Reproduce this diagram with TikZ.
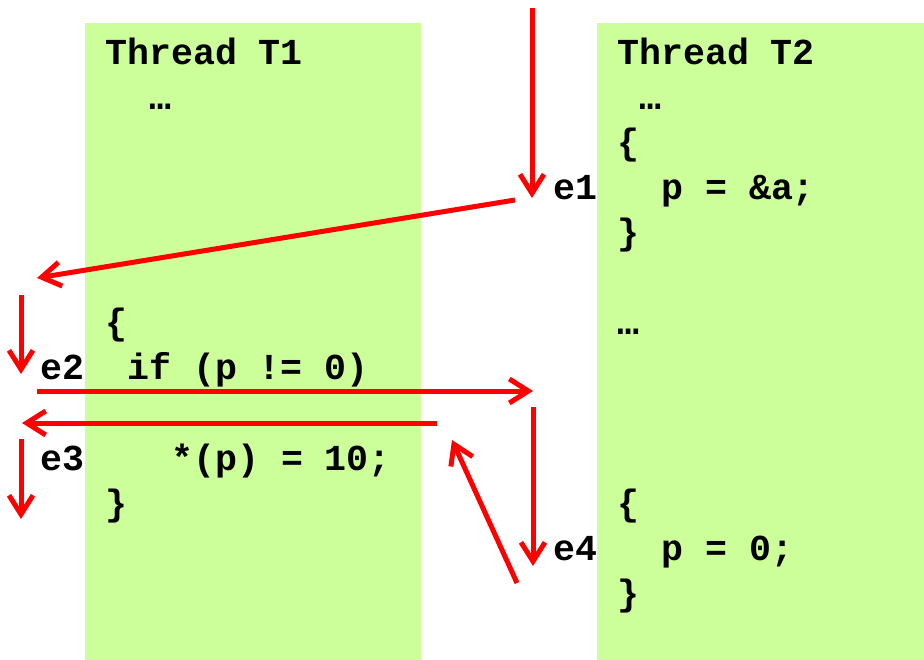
\documentclass[tikz,border=0pt]{standalone}
\usepackage{fontspec}
\setmonofont{Liberation Mono}
\usepackage{xcolor}
\definecolor{thrgreen}{HTML}{CCFF99}
\definecolor{evred}{HTML}{FF0000}
\usetikzlibrary{arrows.meta,positioning}
\tikzset{
  thrpanel/.style={fill=thrgreen,draw=none,anchor=north west,inner sep=0pt},
  codeline/.style={anchor=base west,inner sep=0pt,font=\ttfamily\bfseries\fontsize{36.6}{44}\selectfont},
  evflow/.style={-{Straight Barb[length=19pt,width=24pt]},line width=5pt,draw=evred},
}
\begin{document}
\begin{tikzpicture}[x=1pt,y=-1pt]
\useasboundingbox (0,0) rectangle (924,660);
 % the two threads
\node[thrpanel,minimum width=336,minimum height=637] (t1box) at (85,23) {};
\node[thrpanel,minimum width=327,minimum height=637] (t2box) at (597,23) {};
\node[codeline] (t1head) at (105,65) {Thread T1};
\node[codeline] (t1dots) at (149,110) {…};
\node[codeline] (t1open) at (105,335) {\{};
\node[codeline] (t1if) at (127,380) {if (p != 0)};
\node[codeline] (t1store) at (171,470) {*(p) = 10;};
\node[codeline] (t1close) at (105,515) {\}};
\node[codeline] (t2head) at (617,65) {Thread T2};
\node[codeline] (t2dots) at (639,110) {…};
\node[codeline] (t2open) at (617,155) {\{};
\node[codeline] (t2set) at (661,200) {p = \&a;};
\node[codeline] (t2close) at (617,245) {\}};
\node[codeline] (t2dotsb) at (617,335) {…};
\node[codeline] (t2openb) at (617,515) {\{};
\node[codeline] (t2reset) at (661,560) {p = 0;};
\node[codeline] (t2closeb) at (617,605) {\}};
 % events
\node[codeline] (e1) at (553,200) {e1};
\node[codeline] (e2) at (40,380) {e2};
\node[codeline] (e3) at (40,470) {e3};
\node[codeline] (e4) at (553,560) {e4};
 % interleaving
\coordinate (s1) at (532,8);   \coordinate (f1) at (532,198);
\coordinate (s2) at (515,200); \coordinate (f2) at (37,278);
\coordinate (s3) at (21,295);  \coordinate (f3) at (21,374);
\coordinate (s4) at (37,391);  \coordinate (f4) at (533,391);
\coordinate (s5) at (533,407); \coordinate (f5) at (533,566);
\coordinate (s6) at (517,583); \coordinate (f6) at (452,440);
\coordinate (s7) at (437,423); \coordinate (f7) at (22,423);
\coordinate (s8) at (21,439);  \coordinate (f8) at (21,519);
\foreach \i in {1,...,8}
  \draw[evflow] (s\i) -- (f\i);
\end{tikzpicture}
\end{document}
